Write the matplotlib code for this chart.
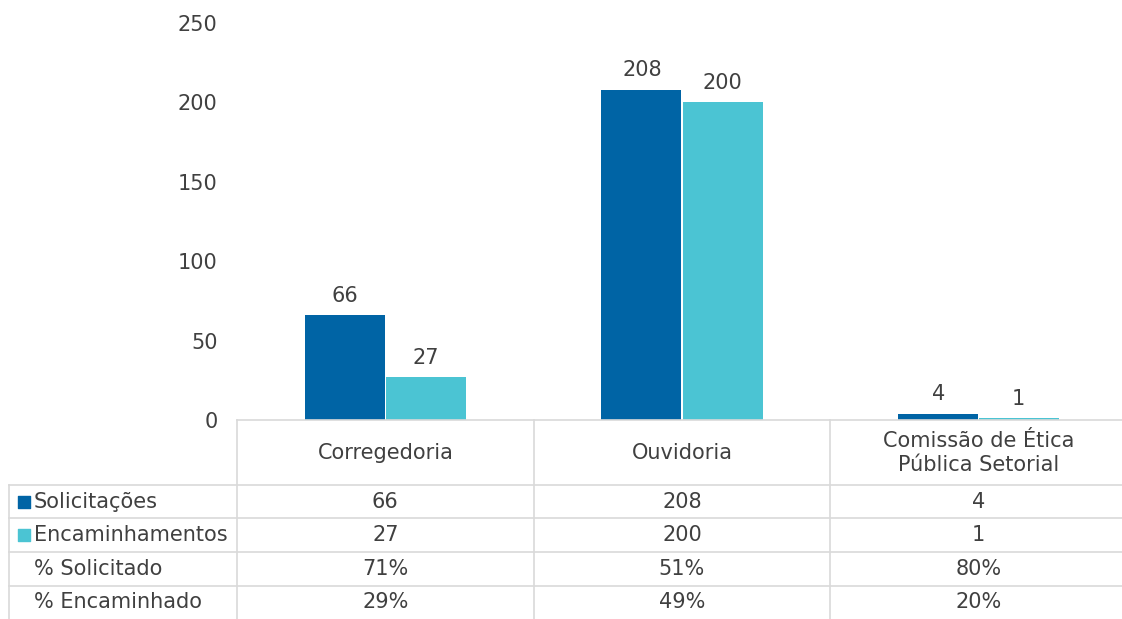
import numpy as np
import matplotlib.pyplot as plt

plt.rcParams['font.family'] = ['DejaVu Sans']

categorias = ["Corregedoria", "Ouvidoria", "Comissão de Ética\nPública Setorial"]
solicitacoes = [66, 208, 4]
encaminhamentos = [27, 200, 1]
pct_solicitado = ["71%", "51%", "80%"]
pct_encaminhado = ["29%", "49%", "20%"]
linhas = ["Solicitações", "Encaminhamentos", "% Solicitado", "% Encaminhado"]
yticks = [0, 50, 100, 150, 200, 250]

azul = "#0064A5"
ciano = "#4BC4D3"
cinza = "#D9D9D9"
texto = "#404040"
fs = 15

W, H = 1122, 619
fig = plt.figure(figsize=(W / 100, H / 100), dpi=100)

# area das barras
x0, x1 = 237, 1127
ytop, ybase = 23, 420
ax = fig.add_axes([x0 / W, (H - ybase) / H, (x1 - x0) / W, (ybase - ytop) / H])
x = np.arange(len(categorias))
bw = 0.27
gap = 0.002
ax.bar(x - bw / 2 - gap, solicitacoes, bw, color=azul, linewidth=0)
ax.bar(x + bw / 2 + gap, encaminhamentos, bw, color=ciano, linewidth=0)
for i in range(len(categorias)):
    ax.text(x[i] - bw / 2, solicitacoes[i] + 6, str(solicitacoes[i]), ha="center", va="bottom",
            fontsize=fs, color=texto)
    ax.text(x[i] + bw / 2, encaminhamentos[i] + 6, str(encaminhamentos[i]), ha="center", va="bottom",
            fontsize=fs, color=texto)
ax.set_xlim(-0.5, 2.5)
ax.set_ylim(0, 250)
ax.set_yticks(yticks)
ax.tick_params(axis="y", length=0, pad=14, labelsize=fs, labelcolor=texto)
ax.set_xticks([])
for s in ["top", "right", "left"]:
    ax.spines[s].set_visible(False)
ax.spines["bottom"].set_color(cinza)
ax.spines["bottom"].set_linewidth(1.2)

# tabela
tx = fig.add_axes([x0 / W, 0, (x1 - x0) / W, (H - ybase) / H])
tx.set_xlim(-0.5, 2.5)
tx.set_ylim(199, 0)
tx.axis("off")
bordas = [0, 65, 98, 132, 166, 199]
col = (x1 - x0) / 3
esq = -0.5 - (x0 - 9) / col
for b in bordas[1:-1]:
    tx.plot([esq, 2.5], [b, b], color=cinza, lw=1.2, clip_on=False)
for v in [-0.5, 0.5, 1.5]:
    tx.plot([v, v], [0, 199], color=cinza, lw=1.2, clip_on=False)
tx.plot([esq, esq], [65, 199], color=cinza, lw=1.2, clip_on=False)

for i, c in enumerate(categorias):
    tx.text(x[i], 33, c, ha="center", va="center", fontsize=fs, color=texto, linespacing=1.2)

valores = [solicitacoes, encaminhamentos, pct_solicitado, pct_encaminhado]
for r, (nome, vals) in enumerate(zip(linhas, valores)):
    yc = (bordas[r + 1] + bordas[r + 2]) / 2
    for i in range(len(categorias)):
        tx.text(x[i], yc, str(vals[i]), ha="center", va="center", fontsize=fs, color=texto)
    tx.text(esq + 25 / col, yc, nome, ha="left", va="center", fontsize=fs, color=texto, clip_on=False)
    if r < 2:
        cor = [azul, ciano][r]
        tx.scatter([esq + 15 / col], [yc], marker="s", s=80, color=cor, clip_on=False)

plt.savefig("out.png", dpi=100)
